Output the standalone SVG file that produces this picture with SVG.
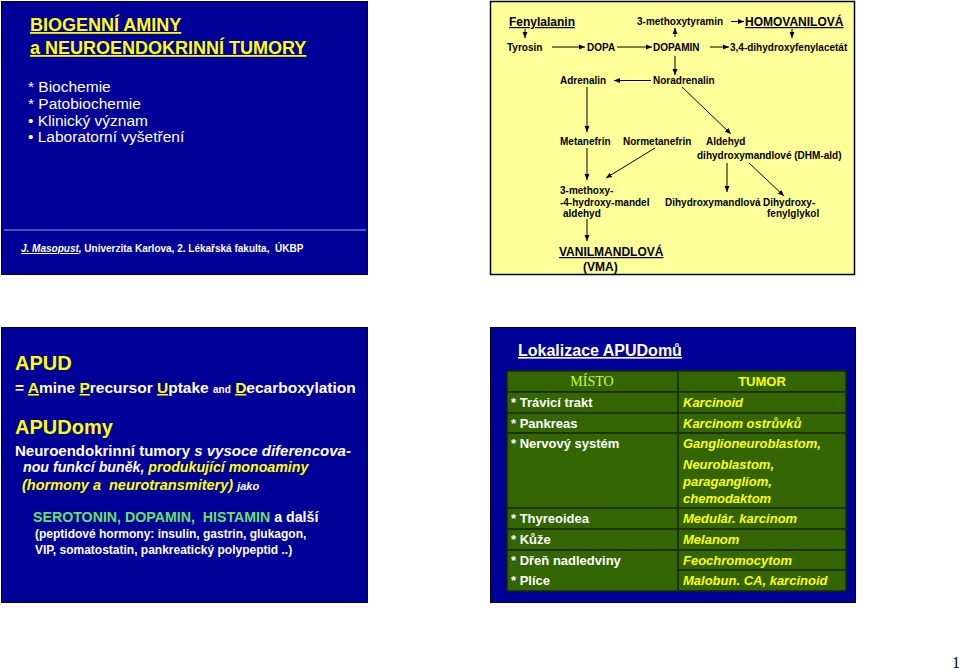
<svg xmlns="http://www.w3.org/2000/svg" width="960" height="671" viewBox="0 0 960 671">
<defs>
<marker id="ah" markerUnits="userSpaceOnUse" markerWidth="6" markerHeight="6" refX="6" refY="3" orient="auto">
<path d="M0,0.5 L6,3 L0,5.5 z" fill="#000"/>
</marker>
<style>
text{font-family:"Liberation Sans",Arial,sans-serif}
.pre{white-space:pre}
.blue{fill:#000099;stroke:#000;stroke-width:1}
.yel{fill:#FFFF99;stroke:#000;stroke-width:1.5}
.p{font-size:10px;font-weight:bold;fill:#000}
.ph{font-size:12px;font-weight:bold;fill:#000;text-decoration:underline}
.con line{stroke:#000;stroke-width:1;marker-end:url(#ah)}
.cell{fill:#336600;stroke:#1A2A00;stroke-width:1.5}
.lt{font-size:13px;font-weight:bold;fill:#fff}
.rt{font-size:13px;font-weight:bold;font-style:italic;fill:#FFFF00}
.y{fill:#FFFF00}
.w{fill:#fff}
.g{fill:#66E066}
</style>
</defs>
<rect width="960" height="671" fill="#fff"/>

<!-- Slide 1 -->
<g id="slide1">
<rect class="blue" x="1.5" y="1.5" width="366" height="273"/>
<text x="30" y="31" font-size="18" font-weight="bold" fill="#FFFF00" text-decoration="underline">BIOGENNÍ AMINY</text>
<text x="30" y="54" font-size="18" font-weight="bold" fill="#FFFF00" text-decoration="underline">a NEUROENDOKRINNÍ TUMORY</text>
<text x="28" y="92" font-size="15.5" fill="#fff">* Biochemie</text>
<text x="28" y="109" font-size="15.5" fill="#fff">* Patobiochemie</text>
<text x="28" y="126" font-size="15.5" fill="#fff">• Klinický význam</text>
<text x="28" y="142" font-size="15.5" fill="#fff">• Laboratorní vyšetření</text>
<line x1="4" y1="230" x2="366" y2="230" stroke="#6A6ACF" stroke-width="1.5"/>
<text class="pre" x="21" y="252" font-size="10" font-weight="bold" fill="#fff"><tspan font-style="italic" text-decoration="underline">J. Masopust</tspan><tspan font-style="italic">,</tspan> Univerzita Karlova, 2. Lékařská fakulta,  ÚKBP</text>
</g>

<!-- Slide 2 -->
<g id="slide2">
<rect class="yel" x="490.5" y="1.5" width="364" height="273"/>
</g>
<g id="n-fenylalanin"><text class="ph" x="509" y="26">Fenylalanin</text></g>
<g id="n-3mt"><text class="p" x="637" y="25">3-methoxytyramin</text></g>
<g id="n-homovanilova"><text class="ph" x="745" y="26">HOMOVANILOVÁ</text></g>
<g id="n-tyrosin"><text class="p" x="507" y="50.5">Tyrosin</text></g>
<g id="n-dopa"><text class="p" x="587" y="50.5">DOPA</text></g>
<g id="n-dopamin"><text class="p" x="653" y="50.5">DOPAMIN</text></g>
<g id="n-dhpa"><text class="p" x="730" y="50.5">3,4-dihydroxyfenylacetát</text></g>
<g id="n-adrenalin"><text class="p" x="560" y="84">Adrenalin</text></g>
<g id="n-noradrenalin"><text class="p" x="653" y="84">Noradrenalin</text></g>
<g id="n-metanefrin"><text class="p" x="560" y="145">Metanefrin</text></g>
<g id="n-normetanefrin"><text class="p" x="623" y="145">Normetanefrin</text></g>
<g id="n-dhmald"><text class="p" x="706" y="145">Aldehyd</text><text class="p" x="697" y="159">dihydroxymandlové (DHM-ald)</text></g>
<g id="n-mhmald"><text class="p" x="560" y="194">3-methoxy-</text><text class="p" x="560" y="206">-4-hydroxy-mandel</text><text class="p" x="563" y="217">aldehyd</text></g>
<g id="n-dhma"><text class="p" x="665" y="206">Dihydroxymandlová</text></g>
<g id="n-dhpg"><text class="p" x="763" y="206">Dihydroxy-</text><text class="p" x="767" y="217">fenylglykol</text></g>
<g id="n-vma"><text class="ph" x="559" y="256">VANILMANDLOVÁ</text><text class="p" x="583" y="271" style="font-size:12px">(VMA)</text></g>

<g id="connectors" class="con">
<line x1="525" y1="29" x2="525" y2="38"/>
<line x1="675" y1="37" x2="675" y2="28"/>
<line x1="792" y1="29" x2="792" y2="38"/>
<line x1="731" y1="21.5" x2="744" y2="21.5"/>
<line x1="552" y1="47" x2="585" y2="47"/>
<line x1="617" y1="47" x2="652" y2="47"/>
<line x1="710" y1="47" x2="729" y2="47"/>
<line x1="675" y1="56" x2="675" y2="75"/>
<line x1="651" y1="80.5" x2="614" y2="80.5"/>
<line x1="587" y1="87" x2="587" y2="132"/>
<line x1="682" y1="87" x2="731" y2="134"/>
<line x1="587" y1="148" x2="587" y2="180"/>
<line x1="655" y1="148" x2="606" y2="178"/>
<line x1="727" y1="163" x2="727" y2="192"/>
<line x1="749" y1="163" x2="784" y2="196"/>
<line x1="587" y1="219" x2="587" y2="241"/>
</g>

<!-- Slide 3 -->
<g id="slide3">
<rect class="blue" x="1.5" y="327.5" width="366" height="275"/>
<text x="15" y="370" font-size="20" font-weight="bold" fill="#FFFF00">APUD</text>
<text x="15" y="393" font-size="15.5" font-weight="bold" fill="#fff">= <tspan class="y" text-decoration="underline">A</tspan>mine <tspan class="y" text-decoration="underline">P</tspan>recursor <tspan class="y" text-decoration="underline">U</tspan>ptake <tspan font-size="10">and</tspan> <tspan class="y" text-decoration="underline">D</tspan>ecarboxylation</text>
<text x="15" y="434" font-size="20" font-weight="bold" fill="#FFFF00">APUDomy</text>
<text x="15" y="456" font-size="15" font-weight="bold" fill="#fff">Neuroendokrinní tumory <tspan font-size="15" font-style="italic">s vysoce diferencova-</tspan></text>
<text x="23" y="472" font-size="14.2" font-weight="bold" font-style="italic" fill="#fff">nou funkcí buněk, <tspan class="y">produkující monoaminy</tspan></text>
<text class="pre" x="22" y="490" font-size="14.5" font-weight="bold" font-style="italic" fill="#FFFF00">(hormony a  neurotransmitery) <tspan class="w" font-size="11">jako</tspan></text>
<text class="pre" x="33" y="522" font-size="14.2" font-weight="bold" fill="#fff"><tspan class="g">SEROTONIN, DOPAMIN,  HISTAMIN</tspan> a další</text>
<text x="35" y="538" font-size="12" font-weight="bold" fill="#fff">(peptidové hormony: insulin, gastrin, glukagon,</text>
<text x="35" y="554" font-size="12" font-weight="bold" fill="#fff">VIP, somatostatin, pankreatický polypeptid ..)</text>
</g>

<!-- Slide 4 -->
<g id="slide4">
<rect class="blue" x="490.5" y="327.5" width="365" height="275"/>
<text x="518" y="356" font-size="16" font-weight="bold" fill="#fff" text-decoration="underline">Lokalizace APUDomů</text>
<g id="table">
<rect class="cell" x="507" y="371" width="171" height="21"/>
<rect class="cell" x="678" y="371" width="168" height="21"/>
<rect class="cell" x="507" y="392" width="171" height="21"/>
<rect class="cell" x="678" y="392" width="168" height="21"/>
<rect class="cell" x="507" y="413" width="171" height="20"/>
<rect class="cell" x="678" y="413" width="168" height="20"/>
<rect class="cell" x="507" y="433" width="171" height="75"/>
<rect class="cell" x="678" y="433" width="168" height="75"/>
<rect class="cell" x="507" y="508" width="171" height="21"/>
<rect class="cell" x="678" y="508" width="168" height="21"/>
<rect class="cell" x="507" y="529" width="171" height="21"/>
<rect class="cell" x="678" y="529" width="168" height="21"/>
<rect class="cell" x="507" y="550" width="171" height="41"/>
<rect class="cell" x="678" y="550" width="168" height="20"/>
<rect class="cell" x="678" y="570" width="168" height="21"/>
<text x="592" y="386" font-size="14" text-anchor="middle" fill="#CCFF33" style="font-family:'Liberation Serif','Times New Roman',serif">MÍSTO</text>
<text x="762" y="386" font-size="13" font-weight="bold" text-anchor="middle" fill="#FFFF00">TUMOR</text>
<text class="lt" x="511" y="407">* Trávicí trakt</text>
<text class="lt" x="511" y="428">* Pankreas</text>
<text class="lt" x="511" y="448">* Nervový systém</text>
<text class="lt" x="511" y="523">* Thyreoidea</text>
<text class="lt" x="511" y="544">* Kůže</text>
<text class="lt" x="511" y="565">* Dřeň nadledviny</text>
<text class="lt" x="511" y="585">* Plíce</text>
<text class="rt" x="683" y="407">Karcinoid</text>
<text class="rt" x="683" y="428">Karcinom ostrůvků</text>
<text class="rt" x="683" y="448">Ganglioneuroblastom,</text>
<text class="rt" x="683" y="469">Neuroblastom,</text>
<text class="rt" x="683" y="486">paragangliom,</text>
<text class="rt" x="683" y="503">chemodaktom</text>
<text class="rt" x="683" y="523">Medulár. karcinom</text>
<text class="rt" x="683" y="544">Melanom</text>
<text class="rt" x="683" y="565">Feochromocytom</text>
<text class="rt" x="683" y="585">Malobun. CA, karcinoid</text>
</g>
</g>

<text x="952" y="668" font-size="16" fill="#000" style="font-family:'Liberation Serif','Times New Roman',serif">1</text>
</svg>
